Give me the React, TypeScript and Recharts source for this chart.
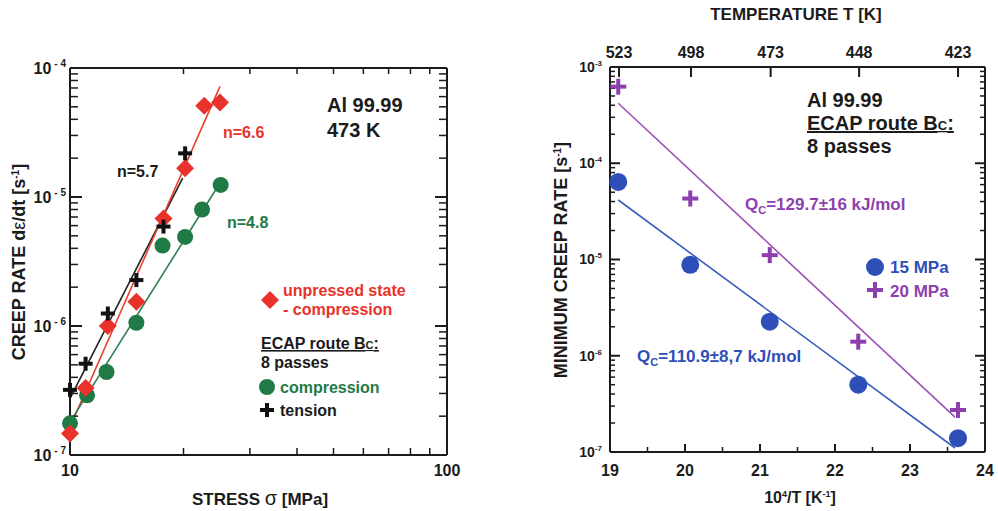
import React from "react";
import { ComposedChart, Line, Scatter, XAxis, YAxis } from "recharts";

const FONT = "'Liberation Sans', Arial, Helvetica, sans-serif";
const INK = "#1b1b1b";
const RED = "#e8322b";
const GREEN = "#1f7a45";
const BLACK = "#111111";
const BLUE = "#2f4fb8";
const PURPLE = "#8e3fae";

// ---- left panel: creep rate vs stress, Al 99.99 at 473 K
const stressUnpressed = [10, 11, 12.6, 15, 17.7, 20.2, 22.7, 25];
const rateUnpressed = [1.47e-7, 3.3e-7, 1.0e-6, 1.54e-6, 6.8e-6, 1.67e-5, 5.1e-5, 5.4e-5];
const stressTension = [10, 11, 12.6, 15, 17.7, 20.2];
const rateTension = [3.2e-7, 5.1e-7, 1.25e-6, 2.27e-6, 5.9e-6, 2.18e-5];
const stressCompression = [10, 11.1, 12.5, 15, 17.6, 20.2, 22.4, 25.1];
const rateCompression = [1.76e-7, 2.9e-7, 4.4e-7, 1.06e-6, 4.2e-6, 4.9e-6, 8.0e-6, 1.24e-5];

// fitted power-law lines (end points)
const fitUnpressedX = [10, 25];
const fitUnpressedY = [1.65e-7, 7.2e-5];
const fitTensionX = [10, 19.9];
const fitTensionY = [2.75e-7, 1.4e-5];
const fitCompressionX = [10, 25.3];
const fitCompressionY = [1.8e-7, 1.36e-5];

// ---- right panel: minimum creep rate vs 10^4/T
const invT = [19.11, 20.07, 21.13, 22.31, 23.64];
const rate15 = [6.4e-5, 8.8e-6, 2.26e-6, 5.0e-7, 1.39e-7];
const rate20 = [6.25e-4, 4.3e-5, 1.11e-5, 1.4e-6, 2.73e-7];
const fit15X = [19.11, 23.6];
const fit15Y = [4.15e-5, 1.1e-7];
const fit20X = [19.11, 23.6];
const fit20Y = [4.2e-4, 2.3e-7];

const tempTicks = [523, 498, 473, 448, 423];
const invTTicks = [19, 19.5, 20, 20.5, 21, 21.5, 22, 22.5, 23, 23.5, 24];

const pts = (xs: number[], ys: number[]) => xs.map((x, i) => ({ x, y: ys[i] }));

const logTicks = (lo: number, hi: number) => {
  const out: number[] = [];
  for (let e = lo; e < hi; e++) for (let m = 1; m < 10; m++) out.push(m * Math.pow(10, e));
  out.push(Math.pow(10, hi));
  return out;
};
const isDecade = (v: number) => Math.abs(Math.log10(v) - Math.round(Math.log10(v))) < 1e-6;
const isInt = (v: number) => Math.abs(v - Math.round(v)) < 1e-6;

const axisStyle = { stroke: INK, strokeWidth: 2 };
const txt = { fontFamily: FONT, fontWeight: 700 } as const;

// inward frame ticks: placed as scatter points on the frame so the chart scales position them
type Edge = "left" | "right" | "top" | "bottom";
const edgeTick = (edge: Edge, majorLen: number, minorLen: number) => (p: any) => {
  const major = p.payload.major;
  const len = major ? majorLen : minorLen;
  const w = major ? 2 : 1.5;
  if (edge === "left") return <rect x={p.cx} y={p.cy - w / 2} width={len} height={w} fill={INK} />;
  if (edge === "right") return <rect x={p.cx - len} y={p.cy - w / 2} width={len} height={w} fill={INK} />;
  if (edge === "top") return <rect x={p.cx - w / 2} y={p.cy} width={w} height={len} fill={INK} />;
  return <rect x={p.cx - w / 2} y={p.cy - len} width={w} height={len} fill={INK} />;
};
const tempTickShape = (p: any) => (
  <g>
    <rect x={p.cx - 1} y={p.cy} width={2} height={10} fill={INK} />
    <text x={p.cx} y={p.cy - 9} textAnchor="middle" fill={INK} fontSize={16} {...txt}>{p.payload.t}</text>
  </g>
);

const Diamond = (p: any) => (
  <path d={`M${p.cx},${p.cy - 9}L${p.cx + 9},${p.cy}L${p.cx},${p.cy + 9}L${p.cx - 9},${p.cy}Z`} fill={RED} />
);
const Dot = (color: string, r: number) => (p: any) => <circle cx={p.cx} cy={p.cy} r={r} fill={color} />;
const Cross = (color: string, s: number, w: number) => (p: any) => (
  <g fill={color}>
    <rect x={p.cx - s} y={p.cy - w / 2} width={2 * s} height={w} />
    <rect x={p.cx - w / 2} y={p.cy - s} width={w} height={2 * s} />
  </g>
);

function StressChart() {
  const stressTicks = logTicks(1, 2);
  const rateTicks = logTicks(-7, -4);
  const yLabel = (p: any) => {
    const v = Number(p.payload.value);
    if (!isDecade(v)) return <g />;
    return (
      <text x={p.x} y={p.y} dy="0.35em" textAnchor="end" fill={INK} fontSize={16} {...txt}>
        10<tspan dx="3" dy="-7" fontSize="10">- {Math.abs(Math.round(Math.log10(v)))}</tspan>
      </text>
    );
  };
  const xLabel = (p: any) => {
    const v = Number(p.payload.value);
    if (v !== 10 && v !== 100) return <g />;
    return <text x={p.x} y={p.y} dy="0.8em" textAnchor="middle" fill={INK} fontSize={16} {...txt}>{v}</text>;
  };
  const leftEdge = rateTicks.map((v) => ({ x: 10, y: v, major: isDecade(v) }));
  const rightEdge = rateTicks.map((v) => ({ x: 100, y: v, major: isDecade(v) }));
  const bottomEdge = stressTicks.slice(1, -1).map((v) => ({ x: v, y: 1e-7, major: false }));
  const topEdge = stressTicks.slice(1, -1).map((v) => ({ x: v, y: 1e-4, major: false }));
  return (
    <ComposedChart width={480} height={511} margin={{ top: 67, right: 32, bottom: 55, left: 69 }}>
      <XAxis type="number" dataKey="x" scale="log" domain={[10, 100]} ticks={stressTicks} interval={0}
        height={1} tickSize={0} tickMargin={8} tickLine={false} axisLine={axisStyle} tick={xLabel} />
      <XAxis xAxisId="top" orientation="top" type="number" scale="log" domain={[10, 100]} allowDataOverflow
        height={1} tickLine={false} tick={false} axisLine={axisStyle} />
      <YAxis type="number" dataKey="y" scale="log" domain={[1e-7, 1e-4]} ticks={rateTicks} interval={0}
        width={1} tickSize={0} tickMargin={4} tickLine={false} axisLine={axisStyle} tick={yLabel} />
      <YAxis yAxisId="right" orientation="right" type="number" scale="log" domain={[1e-7, 1e-4]} allowDataOverflow
        width={1} tickLine={false} tick={false} axisLine={axisStyle} />

      <Scatter data={leftEdge} shape={edgeTick("left", 12, 8)} isAnimationActive={false} />
      <Scatter data={rightEdge} shape={edgeTick("right", 12, 8)} isAnimationActive={false} />
      <Scatter data={bottomEdge} shape={edgeTick("bottom", 7, 7)} isAnimationActive={false} />
      <Scatter data={topEdge} shape={edgeTick("top", 6, 6)} isAnimationActive={false} />

      <Line data={pts(fitTensionX, fitTensionY)} dataKey="y" stroke="#222" strokeWidth={1.6} dot={false} activeDot={false} isAnimationActive={false} />
      <Line data={pts(fitUnpressedX, fitUnpressedY)} dataKey="y" stroke="#ea4030" strokeWidth={1.6} dot={false} activeDot={false} isAnimationActive={false} />
      <Line data={pts(fitCompressionX, fitCompressionY)} dataKey="y" stroke="#2e7d4f" strokeWidth={1.6} dot={false} activeDot={false} isAnimationActive={false} />

      <Scatter data={pts(stressCompression, rateCompression)} shape={Dot(GREEN, 8)} isAnimationActive={false} />
      <Scatter data={pts(stressUnpressed, rateUnpressed)} shape={Diamond} isAnimationActive={false} />
      <Scatter data={pts(stressTension, rateTension)} shape={Cross(BLACK, 7, 4)} isAnimationActive={false} />

      <text x={327} y={112} fontSize={20} fill={INK} {...txt}>Al 99.99</text>
      <text x={327} y={137} fontSize={20} fill={INK} {...txt}>473 K</text>
      <text x={223} y={138} fontSize={16} fill={RED} {...txt}>n=6.6</text>
      <text x={117} y={177} fontSize={16} fill={INK} {...txt}>n=5.7</text>
      <text x={227} y={228} fontSize={16} fill={GREEN} {...txt}>n=4.8</text>

      <path d="M270,291L279,300L270,309L261,300Z" fill={RED} />
      <text x={283} y={296} fontSize={16} fill={RED} {...txt}>unpressed state</text>
      <text x={283} y={315} fontSize={16} fill={RED} {...txt}>- compression</text>
      <text x={261} y={349} fontSize={16} fill={INK} style={{ textDecoration: "underline" }} {...txt}>
        ECAP route B<tspan fontSize={11}>C</tspan>:
      </text>
      <text x={261} y={368} fontSize={16} fill={INK} {...txt}>8 passes</text>
      <circle cx={267} cy={387} r={8} fill={GREEN} />
      <text x={280} y={393} fontSize={16} fill={GREEN} {...txt}>compression</text>
      <rect x={260} y={408} width={14} height={4} fill={BLACK} />
      <rect x={265} y={403} width={4} height={14} fill={BLACK} />
      <text x={280} y={416} fontSize={16} fill={INK} {...txt}>tension</text>

      <text x={25} y={262} transform="rotate(-90, 25, 262)" textAnchor="middle" fontSize={18} fill={INK} {...txt}>
        CREEP RATE d<tspan fontWeight={400}>ε</tspan>/dt  [s<tspan dy="-6" fontSize={10}>-1</tspan><tspan dy="6">]</tspan>
      </text>
      <text x={260} y={505} textAnchor="middle" fontSize={17} fill={INK} {...txt}>
        STRESS <tspan fontWeight={400} fontSize={20}>σ</tspan> [MPa]
      </text>
    </ComposedChart>
  );
}

function ArrheniusChart() {
  const rateTicks = logTicks(-7, -3);
  const yLabel = (p: any) => {
    const v = Number(p.payload.value);
    if (!isDecade(v)) return <g />;
    return (
      <text x={p.x} y={p.y} dy="0.35em" textAnchor="end" fill={INK} fontSize={14} {...txt}>
        10<tspan dy="-6" fontSize="8">{Math.round(Math.log10(v))}</tspan>
      </text>
    );
  };
  const xLabel = (p: any) => {
    const v = Number(p.payload.value);
    if (!isInt(v)) return <g />;
    return <text x={p.x} y={p.y} dy="0.8em" textAnchor="middle" fill={INK} fontSize={16} {...txt}>{v}</text>;
  };
  const leftEdge = rateTicks.map((v) => ({ x: 19, y: v, major: isDecade(v) }));
  const rightEdge = rateTicks.map((v) => ({ x: 24, y: v, major: isDecade(v) }));
  const bottomEdge = invTTicks.slice(1, -1).map((v) => ({ x: v, y: 1e-7, major: isInt(v) }));
  const topEdge = tempTicks.map((t) => ({ x: 1e4 / t, y: 1e-3, t }));
  return (
    <ComposedChart width={498} height={511} margin={{ top: 66, right: 12, bottom: 58, left: 109 }}>
      <XAxis type="number" dataKey="x" domain={[19, 24]} ticks={invTTicks} interval={0}
        height={1} tickSize={0} tickMargin={11} tickLine={false} axisLine={axisStyle} tick={xLabel} />
      <XAxis xAxisId="top" orientation="top" type="number" domain={[19, 24]} allowDataOverflow
        height={1} tickLine={false} tick={false} axisLine={axisStyle} />
      <YAxis type="number" dataKey="y" scale="log" domain={[1e-7, 1e-3]} ticks={rateTicks} interval={0}
        width={1} tickSize={0} tickMargin={8} tickLine={false} axisLine={axisStyle} tick={yLabel} />
      <YAxis yAxisId="right" orientation="right" type="number" scale="log" domain={[1e-7, 1e-3]} allowDataOverflow
        width={1} tickLine={false} tick={false} axisLine={axisStyle} />

      <Scatter data={leftEdge} shape={edgeTick("left", 10, 5)} isAnimationActive={false} />
      <Scatter data={rightEdge} shape={edgeTick("right", 10, 5)} isAnimationActive={false} />
      <Scatter data={bottomEdge} shape={edgeTick("bottom", 8, 5)} isAnimationActive={false} />
      <Scatter data={topEdge} shape={tempTickShape} isAnimationActive={false} />

      <Line data={pts(fit20X, fit20Y)} dataKey="y" stroke="#9b50b8" strokeWidth={1.6} dot={false} activeDot={false} isAnimationActive={false} />
      <Line data={pts(fit15X, fit15Y)} dataKey="y" stroke="#3a5bbf" strokeWidth={1.6} dot={false} activeDot={false} isAnimationActive={false} />

      <Scatter data={pts(invT, rate15)} shape={Dot(BLUE, 9)} isAnimationActive={false} />
      <Scatter data={pts(invT, rate20)} shape={Cross(PURPLE, 8, 4)} isAnimationActive={false} />

      <text x={296} y={20} textAnchor="middle" fontSize={17} fill={INK} {...txt}>TEMPERATURE T [K]</text>
      <text x={307} y={107} fontSize={20} fill={INK} {...txt}>Al 99.99</text>
      <text x={307} y={130} fontSize={20} fill={INK} style={{ textDecoration: "underline" }} {...txt}>
        ECAP route B<tspan fontSize={13}>C</tspan>:
      </text>
      <text x={307} y={153} fontSize={20} fill={INK} {...txt}>8 passes</text>

      <text x={245} y={210} fontSize={17} fill={PURPLE} {...txt}>
        Q<tspan dy="4" fontSize={11}>C</tspan><tspan dy="-4">=129.7±16 kJ/mol</tspan>
      </text>
      <text x={137} y={362} fontSize={17} fill={BLUE} {...txt}>
        Q<tspan dy="4" fontSize={11}>C</tspan><tspan dy="-4">=110.9±8,7 kJ/mol</tspan>
      </text>

      <circle cx={375} cy={267} r={9} fill={BLUE} />
      <text x={390} y={273} fontSize={17} fill={BLUE} {...txt}>15 MPa</text>
      <rect x={367} y={288} width={16} height={4} fill={PURPLE} />
      <rect x={373} y={282} width={4} height={16} fill={PURPLE} />
      <text x={390} y={297} fontSize={17} fill={PURPLE} {...txt}>20 MPa</text>

      <text x={67} y={260} transform="rotate(-90, 67, 260)" textAnchor="middle" fontSize={18} fill={INK} {...txt}>
        MINIMUM CREEP RATE [s<tspan dy="-6" fontSize={10}>-1</tspan><tspan dy="6">]</tspan>
      </text>
      <text x={300} y={503} textAnchor="middle" fontSize={16} fill={INK} {...txt}>
        10<tspan dy="-6" fontSize={9}>4</tspan><tspan dy="6">/T [K</tspan><tspan dy="-6" fontSize={9}>-1</tspan><tspan dy="6">]</tspan>
      </text>
    </ComposedChart>
  );
}

export default function App() {
  return (
    <div style={{ position: "absolute", left: 0, top: 0, width: 998, height: 511, background: "#fff" }}>
      <div style={{ position: "absolute", left: 0, top: 0 }}>
        <StressChart />
      </div>
      <div style={{ position: "absolute", left: 500, top: 0 }}>
        <ArrheniusChart />
      </div>
    </div>
  );
}
